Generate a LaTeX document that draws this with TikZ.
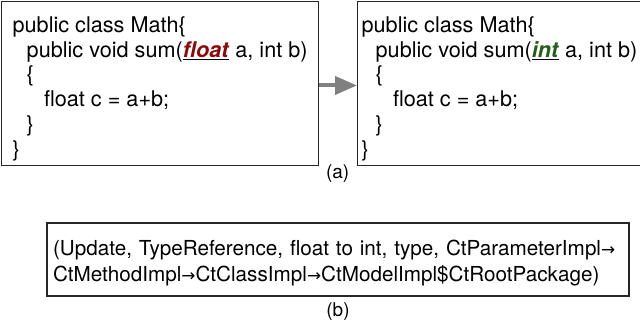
\documentclass[tikz,border=0pt]{standalone}
\usepackage{fontspec}
\setmainfont{TeX Gyre Heros}
\newfontfamily\arrowfont{DejaVu Sans}
\usetikzlibrary{positioning,arrows.meta}

\definecolor{oldred}{RGB}{140,10,10}
\definecolor{newgreen}{RGB}{35,95,20}
\newcommand{\oldtok}[1]{\underline{\textcolor{oldred}{\textbf{\textit{#1}}}}}
\newcommand{\newtok}[1]{\underline{\textcolor{newgreen}{\textbf{\textit{#1}}}}}
\newcommand{\rarr}{{\arrowfont\fontsize{12}{12}\selectfont →}}

\tikzset{
  codebox/.style={draw=black!85, line width=0.9pt, anchor=north west, align=left,
    inner xsep=0.1cm, minimum height=4cm,
    font=\fontsize{15.4}{17.6}\selectfont},
  caption/.style={font=\fontsize{13.5}{16}\selectfont, inner sep=0pt},
}

\begin{document}
\begin{tikzpicture}
\useasboundingbox (0,0) rectangle (16,-8.175);
\def\indA{\hspace*{0.65em}}
\def\indB{\hspace*{1.45em}}

\node[codebox, minimum width=7.925cm] (before) at (0.025,-0.025)
  {\rule{0pt}{1.2em}public class Math\{\\
   \indA public void sum(\oldtok{float} a, int b)\\
   \indA\{\\
   \indB float c = a+b;\\
   \indA\}\\
   \}};
\node[codebox, minimum width=7.05cm] (after) at (8.925,-0.025)
  {\rule{0pt}{1.2em}public class Math\{\\
   \indA public void sum(\newtok{int} a, int b)\\
   \indA\{\\
   \indB float c = a+b;\\
   \indA\}\\
   \}};
\node[caption] (capa) at (8.44,-4.33) {(a)};

% edit
\draw[black!50, line width=2.8pt, -{Triangle[length=0.55cm,width=0.45cm]}]
  ([yshift=-0.05cm]before.east) -- ([yshift=-0.05cm]after.west);

% action
\node[draw=black!85, line width=0.9pt, align=left, text width=14.25cm, inner xsep=0.15cm,
  minimum width=14.55cm, minimum height=1.825cm,
  font=\fontsize{14.7}{18.5}\selectfont] (action) at (8.45,-6.4875)
  {\rule{0pt}{1.05em}(Update, TypeReference, float to int, type, CtParameterImpl\rarr\\
   CtMethodImpl\rarr CtClassImpl\rarr CtModelImpl\$CtRootPackage)};
\node[caption] (capb) at (8.45,-7.78) {(b)};
\end{tikzpicture}
\end{document}
